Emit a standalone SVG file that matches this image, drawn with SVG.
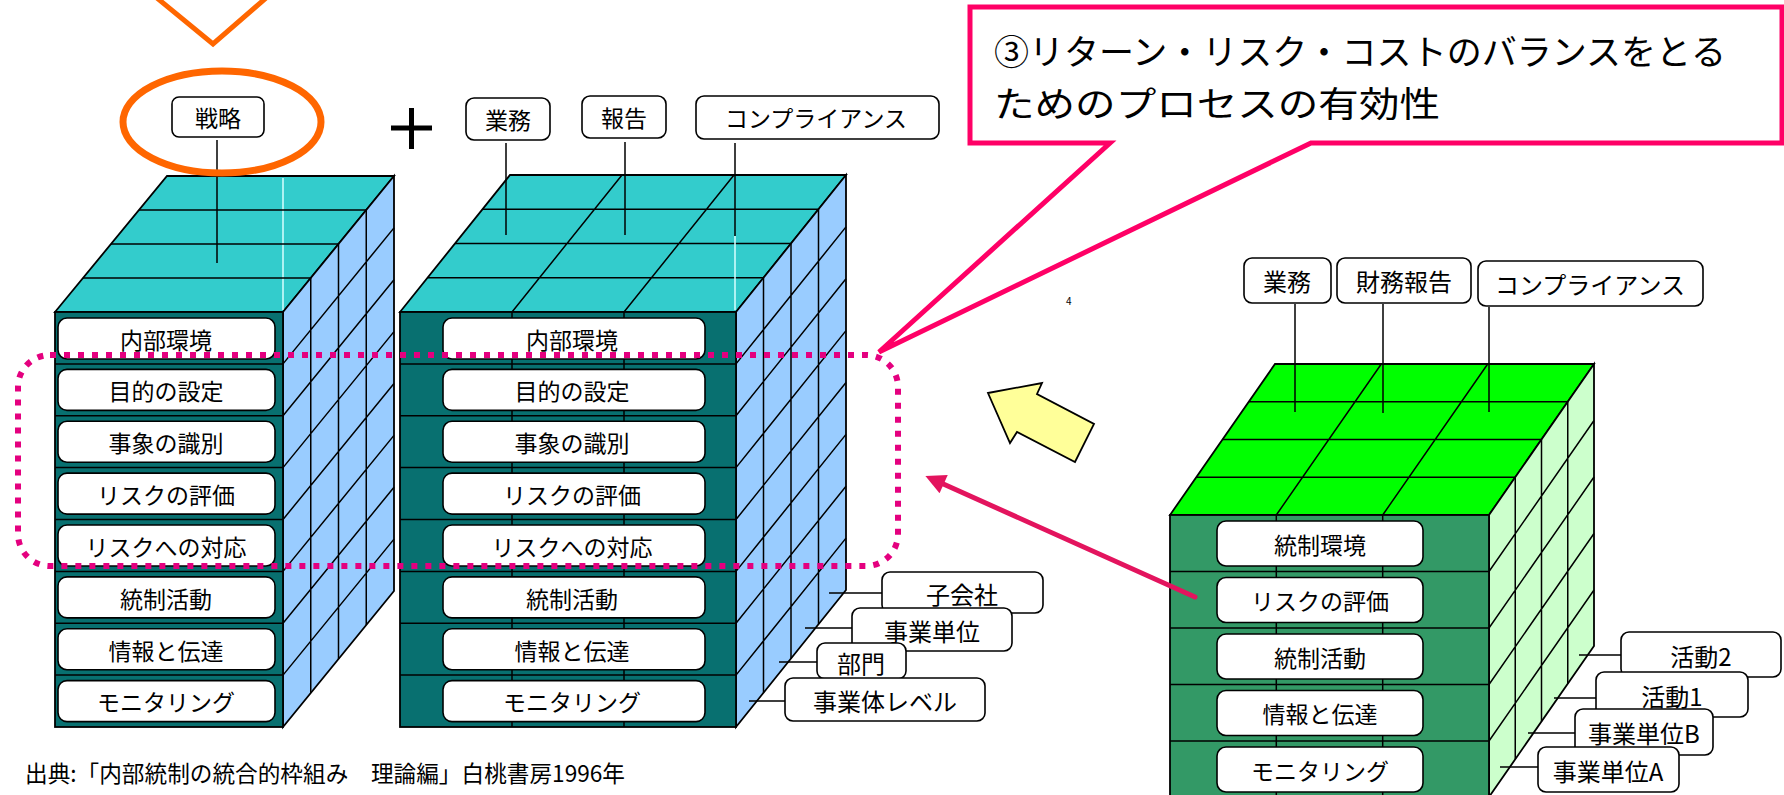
<svg xmlns="http://www.w3.org/2000/svg" width="1784" height="795" viewBox="0 0 1784 795">
<defs>
<style>
text{font-family:"Noto Sans CJK JP","Noto Sans",sans-serif;fill:#000}
.t{font-size:23px;text-anchor:middle;dominant-baseline:central}
.t24{font-size:24px;text-anchor:middle;dominant-baseline:central}
.box{fill:#fff;stroke:#000;stroke-width:1.6}
.ln{stroke:#000;stroke-width:1.5;fill:none}
.edge{stroke:#000;stroke-width:1.8}
.tealTop{fill:#33CCCC}
.tealFront{fill:#087070}
.blueSide{fill:#99CCFF}
.greenTop{fill:#00FF00}
.greenFront{fill:#339966}
.greenSide{fill:#CCFFCC}
.hl{stroke:#D8FFFF;stroke-width:1.5}
.big{font-size:35px;dominant-baseline:central}
</style>
<marker id="pinkHead" viewBox="0 0 10 10" refX="2" refY="5" markerWidth="4.5" markerHeight="4" orient="auto-start-reverse" markerUnits="strokeWidth">
<path d="M0,0 L10,5 L0,10 z" fill="#E3145E"/>
</marker>
</defs>
<rect width="1784" height="795" fill="#fff"/>

<!-- Cube 1 (strategy) -->
<g id="cube1">
<polygon class="tealTop edge" points="55,312 283,312 394,176 167,176"/>
<line class="hl" x1="283" y1="178" x2="283" y2="310"/>
<path class="ln" d="M83,278 H310.75 M111,244 H338.5 M139,210 H366.25"/>
<polygon class="blueSide edge" points="283,312 394,176 394,591 283,727"/>
<path class="ln" d="M283,363.9 L394,227.9 M283,415.75 L394,279.75 M283,467.6 L394,331.6 M283,519.5 L394,383.5 M283,571.4 L394,435.4 M283,623.25 L394,487.25 M283,675.1 L394,539.1 M310.75,278 V693 M338.5,244 V659 M366.25,210 V625"/>
<rect class="tealFront edge" x="55" y="312" width="228" height="415"/>
<path class="ln" d="M55,363.9 H283 M55,415.75 H283 M55,467.6 H283 M55,519.5 H283 M55,571.4 H283 M55,623.25 H283 M55,675.1 H283"/>
<line class="ln" x1="217" y1="140" x2="217" y2="263"/>
</g>
<g id="c1-r1"><rect class="box" x="58" y="318" width="217" height="41" rx="9"/><text class="t" x="166" y="339">内部環境</text></g>
<g id="c1-r2"><rect class="box" x="58" y="369.4" width="217" height="41" rx="9"/><text class="t" x="166" y="390">目的の設定</text></g>
<g id="c1-r3"><rect class="box" x="58" y="421.25" width="217" height="41" rx="9"/><text class="t" x="166" y="442">事象の識別</text></g>
<g id="c1-r4"><rect class="box" x="58" y="473.1" width="217" height="41" rx="9"/><text class="t" x="166" y="494">リスクの評価</text></g>
<g id="c1-r5"><rect class="box" x="58" y="525" width="217" height="41" rx="9"/><text class="t" x="166" y="546">リスクへの対応</text></g>
<g id="c1-r6"><rect class="box" x="58" y="576.9" width="217" height="41" rx="9"/><text class="t" x="166" y="597.5">統制活動</text></g>
<g id="c1-r7"><rect class="box" x="58" y="628.75" width="217" height="41" rx="9"/><text class="t" x="166" y="649.5">情報と伝達</text></g>
<g id="c1-r8"><rect class="box" x="58" y="680.6" width="217" height="41" rx="9"/><text class="t" x="166" y="701">モニタリング</text></g>
<g id="strategy"><rect class="box" x="172" y="97" width="92" height="40" rx="7"/><text class="t" x="218" y="117">戦略</text></g>

<!-- plus -->
<g id="plus"><path d="M391,128 H432 M411.5,108 V149" stroke="#000" stroke-width="5" fill="none"/></g>

<!-- Cube 2 -->
<g id="cube2">
<polygon class="tealTop edge" points="400,312 736,312 846,175 510,175"/>
<path class="ln" d="M427.5,277.75 H763.5 M455,243.5 H791 M482.5,209.25 H818.5 M512,312 L622,175 M624,312 L734,175"/>
<line class="hl" x1="735" y1="236" x2="735" y2="310"/>
<polygon class="blueSide edge" points="736,312 846,175 846,590 736,727"/>
<path class="ln" d="M736,363.9 L846,226.9 M736,415.75 L846,278.75 M736,467.6 L846,330.6 M736,519.5 L846,382.5 M736,571.4 L846,434.4 M736,623.25 L846,486.25 M736,675.1 L846,538.1 M763.5,277.75 V692.75 M791,243.5 V658.5 M818.5,209.25 V624.25"/>
<rect class="tealFront edge" x="400" y="312" width="336" height="415"/>
<path class="ln" d="M400,363.9 H736 M400,415.75 H736 M400,467.6 H736 M400,519.5 H736 M400,571.4 H736 M400,623.25 H736 M400,675.1 H736 M512,312 V727 M624,312 V727"/>
</g>
<g id="c2-r1"><rect class="box" x="443" y="318" width="262" height="41" rx="9"/><text class="t" x="572" y="339">内部環境</text></g>
<g id="c2-r2"><rect class="box" x="443" y="369.4" width="262" height="41" rx="9"/><text class="t" x="572" y="390">目的の設定</text></g>
<g id="c2-r3"><rect class="box" x="443" y="421.25" width="262" height="41" rx="9"/><text class="t" x="572" y="442">事象の識別</text></g>
<g id="c2-r4"><rect class="box" x="443" y="473.1" width="262" height="41" rx="9"/><text class="t" x="572" y="494">リスクの評価</text></g>
<g id="c2-r5"><rect class="box" x="443" y="525" width="262" height="41" rx="9"/><text class="t" x="572" y="546">リスクへの対応</text></g>
<g id="c2-r6"><rect class="box" x="443" y="576.9" width="262" height="41" rx="9"/><text class="t" x="572" y="597.5">統制活動</text></g>
<g id="c2-r7"><rect class="box" x="443" y="628.75" width="262" height="41" rx="9"/><text class="t" x="572" y="649.5">情報と伝達</text></g>
<g id="c2-r8"><rect class="box" x="443" y="680.6" width="262" height="41" rx="9"/><text class="t" x="572" y="701">モニタリング</text></g>
<g id="c2-gyomu"><rect class="box" x="466" y="98" width="84" height="42" rx="8"/><text class="t" x="508" y="119">業務</text></g>
<g id="c2-hokoku"><rect class="box" x="582" y="96" width="84" height="42" rx="8"/><text class="t" x="624" y="117">報告</text></g>
<g id="c2-comp"><rect class="box" x="696" y="96" width="243" height="43" rx="8"/><text class="t" x="816" y="117">コンプライアンス</text></g>
<g id="c2-kogaisha"><rect class="box" x="882" y="572" width="161" height="41" rx="8"/><text class="t24" x="962" y="593">子会社</text></g>
<g id="c2-jigyotani"><rect class="box" x="852" y="608" width="160" height="43" rx="8"/><text class="t24" x="932" y="630">事業単位</text></g>
<g id="c2-bumon"><rect class="box" x="817" y="643" width="89" height="36" rx="8"/><text class="t24" x="861" y="662">部門</text></g>
<g id="c2-jigyotai"><rect class="box" x="785" y="678" width="200" height="43" rx="8"/><text class="t24" x="885" y="700">事業体レベル</text></g>

<!-- Cube 3 (green) -->
<g id="cube3">
<polygon class="greenTop edge" points="1170,515 1489,515 1594,364 1275,364"/>
<path class="ln" d="M1196.25,477.25 H1515.25 M1222.5,439.5 H1541.5 M1248.75,401.75 H1567.75 M1276.3,515 L1381.3,364 M1382.7,515 L1487.7,364"/>
<polygon class="greenSide edge" points="1489,515 1594,364 1594,646 1489,797"/>
<path class="ln" d="M1489,571.5 L1594,420.5 M1489,628 L1594,477 M1489,684.5 L1594,533.5 M1489,741 L1594,590 M1515.25,477.25 V759.25 M1541.5,439.5 V721.5 M1567.75,401.75 V683.75"/>
<rect class="greenFront edge" x="1170" y="515" width="319" height="282"/>
<path class="ln" d="M1170,571.5 H1489 M1170,628 H1489 M1170,684.5 H1489 M1170,741 H1489 M1276.3,515 V797 M1382.7,515 V797"/>
</g>
<g id="c3-r1"><rect class="box" x="1217" y="521" width="206" height="45" rx="9"/><text class="t" x="1320" y="543.5">統制環境</text></g>
<g id="c3-r2"><rect class="box" x="1217" y="577.5" width="206" height="45" rx="9"/><text class="t" x="1320" y="600">リスクの評価</text></g>
<g id="c3-r3"><rect class="box" x="1217" y="634" width="206" height="45" rx="9"/><text class="t" x="1320" y="656.5">統制活動</text></g>
<g id="c3-r4"><rect class="box" x="1217" y="690.5" width="206" height="45" rx="9"/><text class="t" x="1320" y="713">情報と伝達</text></g>
<g id="c3-r5"><rect class="box" x="1217" y="747" width="206" height="45" rx="9"/><text class="t" x="1320" y="769.5">モニタリング</text></g>
<g id="c3-gyomu"><rect class="box" x="1244" y="258" width="87" height="45" rx="8"/><text class="t24" x="1287" y="280">業務</text></g>
<g id="c3-zaimu"><rect class="box" x="1337" y="258" width="134" height="45" rx="8"/><text class="t24" x="1404" y="280">財務報告</text></g>
<g id="c3-comp"><rect class="box" x="1478" y="261" width="225" height="45" rx="8"/><text class="t24" x="1590" y="283">コンプライアンス</text></g>
<g id="c3-katsudo2"><rect class="box" x="1621" y="632" width="160" height="45" rx="8"/><text class="t24" x="1701" y="655">活動2</text></g>
<g id="c3-katsudo1"><rect class="box" x="1596" y="672" width="152" height="45" rx="8"/><text class="t24" x="1672" y="695">活動1</text></g>
<g id="c3-unitB"><rect class="box" x="1575" y="709" width="138" height="46" rx="8"/><text class="t24" x="1644" y="732">事業単位B</text></g>
<g id="c3-unitA"><rect class="box" x="1538" y="747" width="141" height="45" rx="8"/><text class="t24" x="1608" y="770">事業単位A</text></g>

<!-- connectors -->
<g id="connectors">
<path class="ln" d="M506,143 V235 M625,142 V235 M735,143 V236"/>
<path class="ln" d="M829,593 H882 M805,628 H852 M779,662 H817 M749,701 H785"/>
<path class="ln" d="M1295,304 V412 M1383,304 V413 M1489,307 V412"/>
<path class="ln" d="M1579,655 H1621 M1554,698 H1596 M1528,733 H1575 M1500,767 H1538"/>
<line x1="1195" y1="597" x2="940" y2="482.5" stroke="#E3145E" stroke-width="5" stroke-linecap="round" marker-end="url(#pinkHead)"/>
</g>

<g id="yellowArrow"><polygon points="988,393 1042,383 1037,394 1094,424 1075,462 1017,432 1010,443" fill="#FFFF99" stroke="#000" stroke-width="1.8" stroke-linejoin="miter"/></g>

<g id="dottedFrame"><rect x="18" y="355" width="880" height="211" rx="32" fill="none" stroke="#E4007F" stroke-width="6" stroke-dasharray="6 8"/></g>

<g id="orangeEllipse"><ellipse cx="222" cy="122" rx="99" ry="51" fill="none" stroke="#FF6600" stroke-width="7"/></g>
<g id="orangeV"><polyline points="157,-2 213,44 266,-2" fill="none" stroke="#FF6600" stroke-width="5"/></g>

<g id="callout">
<polygon points="970,7 1782,7 1782,143 1311,143 879,352 1110,143 970,143" fill="#fff" stroke="#FF0066" stroke-width="5" stroke-linejoin="miter"/>
<text class="big" x="994" y="49" textLength="732" lengthAdjust="spacingAndGlyphs">③リターン・リスク・コストのバランスをとる</text>
<text class="big" x="994" y="101" textLength="446" lengthAdjust="spacingAndGlyphs">ためのプロセスの有効性</text>
</g>

<text x="1066" y="305" font-size="10">4</text>
<text id="caption" x="25" y="772" font-size="23" dominant-baseline="central" textLength="600" lengthAdjust="spacingAndGlyphs">出典:「内部統制の統合的枠組み　理論編」白桃書房1996年</text>
</svg>
